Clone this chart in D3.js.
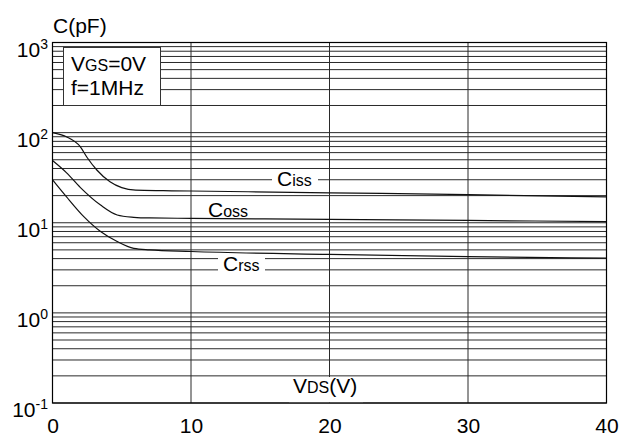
<!DOCTYPE html>
<html>
<head>
<meta charset="utf-8">
<script src="https://cdn.jsdelivr.net/npm/d3@7"></script>
<style>
  html, body { margin: 0; padding: 0; background: #fff; }
  svg { display: block; font-family: "Liberation Sans", Arial, sans-serif; }
</style>
</head>
<body>
<svg id="chart" width="633" height="436"></svg>
<script>
// Drain-source voltage (V) sample points for each capacitance curve
const vdsCiss = [0, 1, 2, 2.5, 3.2, 4.15, 5, 6, 8, 10, 20, 30, 40];
const ciss    = [100, 90, 70, 53, 38.5, 28.5, 24.5, 23, 22.7, 22.5, 21.5, 20.5, 19.4];

const vdsCoss = [0, 1, 2, 3.47, 4.67, 5.87, 7, 10, 20, 30, 40];
const coss    = [49, 36, 24.7, 15.7, 12.2, 11.5, 11.3, 11.2, 10.9, 10.6, 10.3];

const vdsCrss = [0, 1, 2.26, 3.47, 4.67, 5.87, 7, 10, 20, 30, 40];
const crss    = [30, 19.5, 11.7, 8, 6.2, 5.2, 5.0, 4.8, 4.45, 4.2, 4.05];

// Axis ticks
const xTicks = [0, 10, 20, 30, 40];
const yExponents = [-1, 0, 1, 2, 3];

(function () {
  const svg = d3.select("#chart");
  const plotL = 52.5, plotR = 606.5, plotT = 42.5, plotB = 403;
  const x = d3.scaleLinear().domain([0, 40]).range([plotL, plotR]);
  const y = d3.scaleLog().domain([0.1, 1000]).range([plotB, plotT]);

  const FS = 21, SUB = 16;
  const FONT = "Liberation Sans, Arial, sans-serif";

  // Log grid: 1..9 in every decade
  const gridY = [];
  for (let e = -1; e < 3; e++) for (let m = 1; m <= 9; m++) gridY.push(m * Math.pow(10, e));
  gridY.push(1000);

  const grid = svg.append("g").attr("stroke", "#2a2a2a").attr("stroke-width", 1);
  grid.selectAll("line.h").data(gridY).join("line")
    .attr("class", "h")
    .attr("x1", plotL).attr("x2", plotR)
    .attr("y1", d => y(d)).attr("y2", d => y(d));
  grid.selectAll("line.v").data(xTicks.slice(1, -1)).join("line")
    .attr("class", "v")
    .attr("x1", d => x(d)).attr("x2", d => x(d))
    .attr("y1", plotT).attr("y2", plotB);

  // Text made of runs with different sizes (e.g. C + subscript "iss")
  function richText(g, parts, px, py, anchor) {
    const t = g.append("text").attr("x", px).attr("y", py)
      .attr("font-size", FS).attr("fill", "#000")
      .attr("text-anchor", anchor || "start");
    parts.forEach(p => t.append("tspan").attr("font-size", p[1]).text(p[0]));
    return t;
  }

  // Curves
  const line = d3.line().curve(d3.curveMonotoneX).x(d => x(d[0])).y(d => y(d[1]));
  const curves = [
    d3.zip(vdsCiss, ciss),
    d3.zip(vdsCoss, coss),
    d3.zip(vdsCrss, crss)
  ];
  svg.append("g").selectAll("path").data(curves).join("path")
    .attr("d", line)
    .attr("fill", "none").attr("stroke", "#111").attr("stroke-width", 1.2);

  // Curve labels (Ciss and Crss sit on a white patch over the grid)
  const labels = svg.append("g");
  labels.append("rect").attr("x", 272).attr("y", 172).attr("width", 46).attr("height", 17).attr("fill", "#fff");
  richText(labels, [["C", FS], ["iss", SUB]], 277, 186);
  richText(labels, [["C", FS], ["oss", SUB]], 208, 216.5);
  labels.append("rect").attr("x", 218).attr("y", 254).attr("width", 47).attr("height", 20).attr("fill", "#fff");
  richText(labels, [["C", FS], ["rss", SUB]], 223, 271);

  // Conditions box
  const box = svg.append("g");
  box.append("rect").attr("x", 63.5).attr("y", 47.5).attr("width", 97).attr("height", 58)
    .attr("fill", "#fff").attr("stroke", "#333").attr("stroke-width", 1);
  richText(box, [["V", FS], ["GS", SUB], ["=0V", FS]], 71, 70.5);
  richText(box, [["f=1MHz", FS]], 71, 95);

  // X-axis title inside the plot
  svg.append("rect").attr("x", 289).attr("y", 377).attr("width", 74).attr("height", 25.5).attr("fill", "#fff");
  richText(svg, [["V", FS], ["DS", SUB], ["(V)", FS]], 293, 393.3);

  // Frame
  svg.append("rect").attr("x", plotL).attr("y", plotT)
    .attr("width", plotR - plotL).attr("height", plotB - plotT)
    .attr("fill", "none").attr("stroke", "#000").attr("stroke-width", 1.2);

  // X axis labels
  const xAxis = svg.append("g").attr("transform", `translate(0,${plotB})`)
    .call(d3.axisBottom(x).tickValues(xTicks).tickSize(0).tickFormat(d3.format("d")));
  xAxis.select(".domain").remove();
  xAxis.selectAll("text").attr("font-size", FS).attr("font-family", FONT)
    .attr("fill", "#000").attr("y", 29.5).attr("dy", 0);

  // Y axis labels as powers of ten
  const yAxis = svg.append("g").attr("transform", `translate(${plotL},0)`)
    .call(d3.axisLeft(y).tickValues(yExponents.map(e => Math.pow(10, e))).tickSize(0).tickFormat(""));
  yAxis.select(".domain").remove();
  yAxis.selectAll(".tick text").each(function (d) {
    const t = d3.select(this);
    const e = Math.round(Math.log10(d));
    t.text("").attr("x", -4.5).attr("dy", 0).attr("y", 13.8)
      .attr("font-size", FS).attr("font-family", FONT)
      .attr("fill", "#000").attr("text-anchor", "end");
    t.append("tspan").text("10");
    t.append("tspan").attr("font-size", 14).attr("dy", -8).text(String(e));
  });

  // Y-axis title
  richText(svg, [["C(pF)", FS]], 53, 32.5);
})();
</script>
</body>
</html>
